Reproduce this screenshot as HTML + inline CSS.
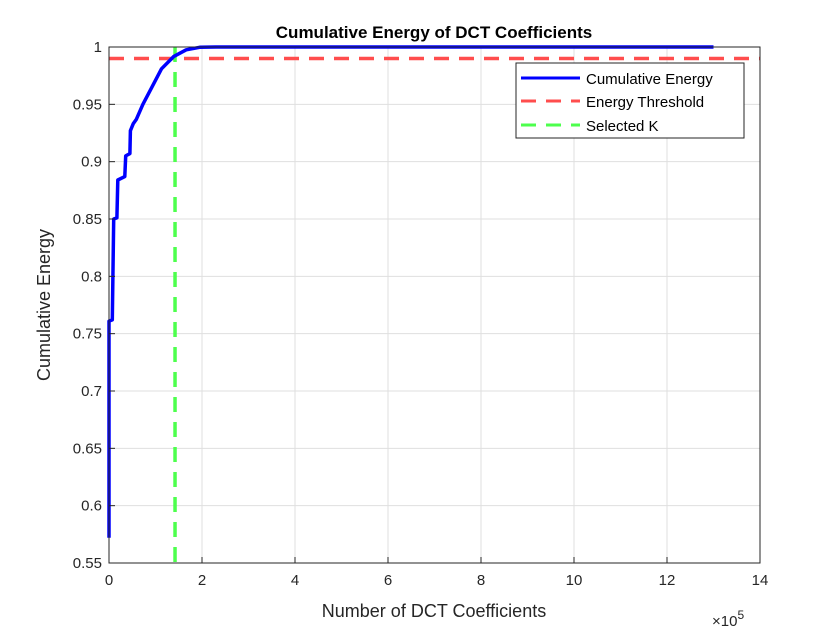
<!DOCTYPE html>
<html><head><meta charset="utf-8"><style>
body{margin:0;background:#fff;}
svg text{font-family:"Liberation Sans",Arial,sans-serif;}
</style></head><body>
<svg id="chart" width="840" height="630" xmlns="http://www.w3.org/2000/svg">
<rect width="840" height="630" fill="#fff"/>
<g id="grid"></g>
<g id="marks"></g>
<rect x="109" y="47" width="651" height="516" fill="none" stroke="#262626" stroke-width="1"/>
<g id="ticks"></g>
<text x="434" y="38" font-size="17" font-weight="bold" text-anchor="middle" fill="#000">Cumulative Energy of DCT Coefficients</text>
<text x="434" y="617" font-size="18" text-anchor="middle" fill="#262626">Number of DCT Coefficients</text>
<text transform="translate(50,305) rotate(-90)" font-size="18" text-anchor="middle" fill="#262626">Cumulative Energy</text>
<text x="712" y="626" font-size="15" fill="#262626">×10<tspan dy="-7" font-size="12">5</tspan></text>
<g>
<rect x="516" y="63" width="228" height="75" fill="#fff" stroke="#262626" stroke-width="1"/>
<line x1="521" y1="78" x2="580" y2="78" stroke="#0000ff" stroke-width="3"/>
<line x1="521" y1="101" x2="580" y2="101" stroke="#ff4d4d" stroke-width="3" stroke-dasharray="15,10"/>
<line x1="521" y1="125" x2="580" y2="125" stroke="#4dff4d" stroke-width="3" stroke-dasharray="15,10"/>
<text x="586" y="84" font-size="15" fill="#000">Cumulative Energy</text>
<text x="586" y="107" font-size="15" fill="#000">Energy Threshold</text>
<text x="586" y="131" font-size="15" fill="#000">Selected K</text>
</g>
</svg>
<script>
const xTicks=[0,2,4,6,8,10,12,14];
const yTicks=[0.55,0.6,0.65,0.7,0.75,0.8,0.85,0.9,0.95,1];
const yTickLabels=["0.55","0.6","0.65","0.7","0.75","0.8","0.85","0.9","0.95","1"];
const curveX=[0,0,0.07,0.1,0.17,0.19,0.34,0.36,0.45,0.46,0.52,0.59,0.73,0.91,1.13,1.39,1.66,1.95,2.3,13];
const curveY=[0.572,0.761,0.762,0.850,0.851,0.884,0.887,0.905,0.907,0.927,0.933,0.937,0.950,0.964,0.981,0.9916,0.9976,0.9997,1.0,1.0];
const threshold=0.99;
const selectedK=1.42;
const X0=109,X1=760,Y0=563,Y1=47;
const xs=v=>X0+(v-0)/(14-0)*(X1-X0);
const ys=v=>Y0-(v-0.55)/(1-0.55)*(Y0-Y1);
const NS="http://www.w3.org/2000/svg";
function mk(t,a,p){const e=document.createElementNS(NS,t);for(const k in a)e.setAttribute(k,a[k]);p.appendChild(e);return e;}
const grid=document.getElementById('grid'),ticks=document.getElementById('ticks'),marks=document.getElementById('marks');
xTicks.forEach(t=>{const x=xs(t);
 const g=mk('line',{x1:x,x2:x,y1:Y1,y2:Y0,stroke:'#dfdfdf','stroke-width':1},grid);
 
 
 const tk=mk('line',{x1:x,x2:x,y1:Y0,y2:Y0-6,stroke:'#262626'},ticks);
 
 
 const tx=mk('text',{x:x,y:Y0+22,'font-size':15,'text-anchor':'middle',fill:'#262626'},ticks);
 tx.textContent=String(t);
 
 
});
yTicks.forEach((t,i)=>{const y=ys(t);
 const g=mk('line',{x1:X0,x2:X1,y1:y,y2:y,stroke:'#dfdfdf','stroke-width':1},grid);
 
 
 const tk=mk('line',{x1:X0,x2:X0+6,y1:y,y2:y,stroke:'#262626'},ticks);
 
 
 const tx=mk('text',{x:X0-7,y:y+5,'font-size':15,'text-anchor':'end',fill:'#262626'},ticks);
 tx.textContent=yTickLabels[i];
 
 
});
const th=mk('line',{x1:X0,x2:X1,y1:ys(threshold),y2:ys(threshold),stroke:'#ff4d4d','stroke-width':3.5,'stroke-dasharray':'15,10'},marks);


const sk=mk('line',{x1:xs(selectedK),x2:xs(selectedK),y1:Y1,y2:Y0,stroke:'#4dff4d','stroke-width':3.5,'stroke-dasharray':'15,10'},marks);


const pts=curveX.map((v,i)=>xs(v).toFixed(1)+','+ys(curveY[i]).toFixed(1)).join(' ');
const cl=mk('polyline',{points:pts,fill:'none',stroke:'#0000ff','stroke-width':3.5,'stroke-linejoin':'round'},marks);


</script>
</body></html>
